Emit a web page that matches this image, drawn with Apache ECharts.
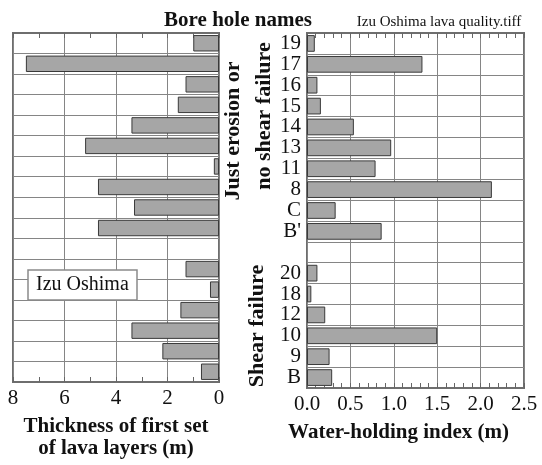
<!DOCTYPE html>
<html>
<head>
<meta charset="utf-8">
<script src="https://cdn.jsdelivr.net/npm/echarts@6/dist/echarts.min.js"></script>
<style>
  html, body { margin: 0; padding: 0; background: #fff; }
  #chart { width: 542px; height: 465px; }
</style>
</head>
<body>
<div id="chart"></div>
<script>
// Bore holes, top to bottom; the empty entry separates the two groups
const boreHoles = ['19', '17', '16', '15', '14', '13', '11', '8', 'C', "B'", '', '20', '18', '12', '10', '9', 'B'];
// Thickness of the first set of lava layers (m)
const thickness = [1.0, 7.5, 1.3, 1.6, 3.4, 5.2, 0.2, 4.7, 3.3, 4.7, null, 1.3, 0.35, 1.5, 3.4, 2.2, 0.7];
// Water-holding index (m)
const waterIndex = [0.09, 1.33, 0.12, 0.16, 0.54, 0.97, 0.79, 2.13, 0.33, 0.86, null, 0.12, 0.05, 0.21, 1.50, 0.26, 0.29];
const thicknessTicks = { min: 0, max: 8, interval: 2 };
const waterTicks = { min: 0, max: 2.5, interval: 0.5 };

const SERIF = '"Liberation Serif", "Times New Roman", serif';
const INK = '#111';
const FRAME = '#6e6e6e';
const GRID_LINE = { color: '#858585', width: 1 };
const TICK_LINE = { color: '#666', width: 1 };

function valueAxis(gridIndex, ticks, minorSplits, opts) {
  return Object.assign({
    type: 'value',
    gridIndex,
    min: ticks.min,
    max: ticks.max,
    interval: ticks.interval,
    axisLine: { show: true, onZero: false, lineStyle: { color: FRAME, width: 2 } },
    axisTick: { show: true, inside: true, length: 5, lineStyle: TICK_LINE },
    minorTick: { show: true, splitNumber: minorSplits, length: 5, lineStyle: TICK_LINE },
    splitLine: { show: false }
  }, opts);
}

const chart = echarts.init(document.getElementById('chart'), null, { renderer: 'canvas' });

chart.setOption({
  animation: false,
  backgroundColor: '#fff',
  title: [
    { text: 'Bore hole names', left: 233, top: 5, textAlign: 'center',
      textStyle: { fontFamily: SERIF, fontSize: 21, fontWeight: 'bold', color: INK } },
    { text: 'Izu Oshima lava quality.tiff', left: 434, top: 10, textAlign: 'center',
      textStyle: { fontFamily: SERIF, fontSize: 15, fontWeight: 'normal', color: INK } },
    { text: 'Izu Oshima', left: 28, top: 270, padding: [5, 8], backgroundColor: '#fff',
      borderColor: '#8a8a8a', borderWidth: 1.5,
      textStyle: { fontFamily: SERIF, fontSize: 20, fontWeight: 'normal', color: INK } }
  ],
  grid: [
    { left: 13, right: 323, top: 33, bottom: 77, show: true, borderColor: FRAME, borderWidth: 2 },
    { left: 307, right: 18, top: 33, bottom: 77, show: true, borderColor: FRAME, borderWidth: 2 }
  ],
  xAxis: [
    valueAxis(0, thicknessTicks, 2, {
      inverse: true, position: 'bottom',
      splitLine: { show: true, lineStyle: GRID_LINE },
      axisLabel: { fontFamily: SERIF, fontSize: 21, color: INK, margin: 6 },
      name: 'Thickness of first set\nof lava layers (m)', nameLocation: 'middle', nameGap: 34,
      nameTextStyle: { fontFamily: SERIF, fontSize: 21, fontWeight: 'bold', color: INK,
        lineHeight: 22, verticalAlign: 'top' }
    }),
    valueAxis(0, thicknessTicks, 2, {
      inverse: true, position: 'top',
      axisLabel: { show: false }
    }),
    valueAxis(1, waterTicks, 5, {
      position: 'bottom',
      splitLine: { show: true, lineStyle: GRID_LINE },
      axisLabel: { fontFamily: SERIF, fontSize: 21, color: INK, margin: 6,
        formatter: v => v.toFixed(1) },
      name: 'Water-holding index (m)', nameLocation: 'middle', nameGap: 34,
      nameTextStyle: { fontFamily: SERIF, fontSize: 21, fontWeight: 'bold', color: INK,
        verticalAlign: 'top', padding: [0, 34, 0, 0] }
    }),
    valueAxis(1, waterTicks, 5, {
      position: 'top',
      axisLabel: { show: false }
    })
  ],
  yAxis: [
    { type: 'category', gridIndex: 0, data: boreHoles, inverse: true, position: 'right',
      axisLine: { show: false }, axisTick: { show: false }, axisLabel: { show: false },
      splitLine: { show: true, interval: 0, lineStyle: GRID_LINE } },
    { type: 'category', gridIndex: 1, data: boreHoles, inverse: true, position: 'left',
      axisLine: { show: false }, axisTick: { show: false },
      axisLabel: { interval: 0, fontFamily: SERIF, fontSize: 21, color: INK, margin: 6 },
      splitLine: { show: true, interval: 0, lineStyle: GRID_LINE } }
  ],
  series: [
    { name: 'Thickness', type: 'bar', xAxisIndex: 0, yAxisIndex: 0, data: thickness,
      barWidth: '80%', z: 3,
      itemStyle: { color: '#a6a6a6', borderColor: '#3a3a3a', borderWidth: 1 } },
    { name: 'Water-holding index', type: 'bar', xAxisIndex: 2, yAxisIndex: 1, data: waterIndex,
      barWidth: '80%', z: 3,
      itemStyle: { color: '#a6a6a6', borderColor: '#3a3a3a', borderWidth: 1 } }
  ],
  graphic: [
    { type: 'text', x: 233, y: 131, rotation: Math.PI / 2,
      style: { text: 'Just erosion or', fontFamily: SERIF, fontSize: 22, fontWeight: 'bold',
        fill: INK, align: 'center', verticalAlign: 'middle' } },
    { type: 'text', x: 264, y: 116, rotation: Math.PI / 2,
      style: { text: 'no shear failure', fontFamily: SERIF, fontSize: 22, fontWeight: 'bold',
        fill: INK, align: 'center', verticalAlign: 'middle' } },
    { type: 'text', x: 257, y: 326, rotation: Math.PI / 2,
      style: { text: 'Shear failure', fontFamily: SERIF, fontSize: 22, fontWeight: 'bold',
        fill: INK, align: 'center', verticalAlign: 'middle' } }
  ]
});
</script>
</body>
</html>
